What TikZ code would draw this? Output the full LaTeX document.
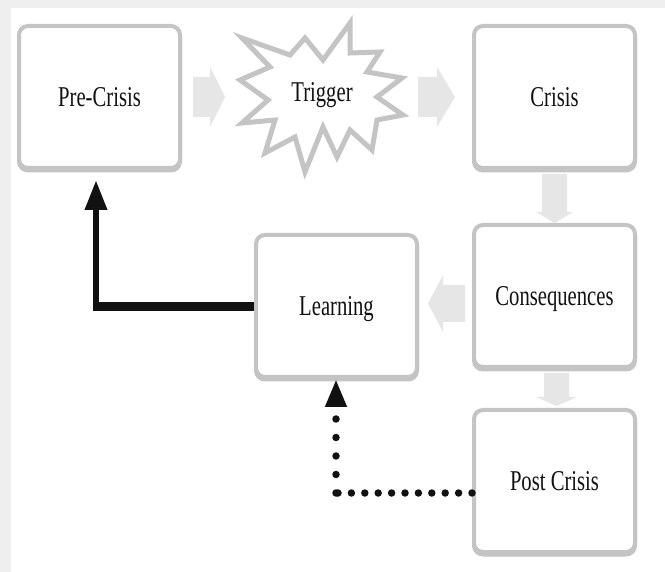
\documentclass[tikz,border=0pt]{standalone}
\usepackage{fontspec}
\usetikzlibrary{arrows.meta,shadows}
\newfontfamily\labelfont[FakeStretch=0.72]{Liberation Serif}
\definecolor{framegray}{HTML}{EFEFEF}
\definecolor{boxgray}{HTML}{C4C4C4}
\definecolor{arrowgray}{HTML}{E6E6E6}
\definecolor{inkblack}{HTML}{111111}

\begin{document}
\begin{tikzpicture}[x=1pt,y=-1pt,
  lbl/.style={font=\labelfont\fontsize{28.7}{30}\selectfont, text=inkblack,
    text height=19pt, text depth=0pt, inner sep=0pt},
  stage/.style={lbl, draw=boxgray, line width=4pt, fill=white,
    rounded corners=9pt, minimum width=161pt, minimum height=142pt,
    general shadow={shadow yshift=-2.5pt, draw=boxgray, line width=4pt, fill=boxgray}},
  burst/.style={draw=boxgray, line width=5pt, fill=white, line join=miter},
  blockarrow/.style={fill=arrowgray},
  feedback/.style={draw=inkblack, -{Triangle[length=30pt,width=21pt]}},
  dotline/.style={draw=inkblack, line width=7.5pt, line cap=round}
]
\useasboundingbox (0,0) rectangle (665,572);

% page background with its thin grey margin
\fill[framegray] (0,0) rectangle (665,572);
\fill[white] (11,8) rectangle (665,572);

% stages of the cycle
\node[stage] (pre)    at (99.5,97)  {Pre-Crisis};
\node[stage] (crisis) at (554.5,97) {Crisis};
\node[stage] (cons)   at (554.5,296) {Consequences};
\node[stage] (learn)  at (336.5,306) {Learning};
\node[stage] (post)   at (554.5,481) {Post Crisis};

% trigger burst
\draw[burst] (350,23) -- (350,53) -- (380,52) -- (367,72) -- (402,78)
  -- (377,97) -- (403,115) -- (377,120) -- (372,150) -- (350,130)
  -- (337,157) -- (323,127) -- (305,172) -- (295,137) -- (265,153)
  -- (275,120) -- (242,123) -- (268,100) -- (240,80) -- (270,67)
  -- (242,38) -- (290,55) -- (305,38) -- (323,60) -- cycle;
\node[lbl] (trig) at (322,92) {Trigger};

% grey block arrows along the main sequence
\fill[blockarrow] (193,77) -- (210,77) -- (210,67) -- (225,97)
  -- (210,127) -- (210,117) -- (193,117) -- cycle;
\fill[blockarrow] (418,77) -- (437,77) -- (437,67) -- (455,97)
  -- (437,127) -- (437,117) -- (418,117) -- cycle;
\fill[blockarrow] (542,174) -- (567,174) -- (567,212) -- (573,212)
  -- (554.5,223) -- (536,212) -- (542,212) -- cycle;
\fill[blockarrow] (465,285) -- (443,285) -- (443,275) -- (428,303.5)
  -- (443,332) -- (443,322) -- (465,322) -- cycle;
\fill[blockarrow] (544,373) -- (569,373) -- (569,397) -- (577,397)
  -- (556.5,406) -- (536,397) -- (544,397) -- cycle;

% feedback from learning back to the pre-crisis stage
\coordinate (elbow) at (96,307);
\draw[inkblack, line width=9pt] (learn.west |- elbow) -- ([xshift=-3.25pt]elbow);
\draw[feedback, line width=6.5pt, shorten >=10pt]
  ([yshift=-4.5pt]elbow) -- (pre.south -| elbow);

% dotted feedback from post crisis to learning
\coordinate (dotcorner) at (336,493);
\draw[dotline, dash pattern=on 0pt off 13.4pt] (post.west |- dotcorner) -- (dotcorner);
\draw[dotline, dash pattern=on 0pt off 18.5pt,
  -{Triangle[length=28pt,width=20pt]}] (dotcorner) -- (learn.south -| dotcorner);
\end{tikzpicture}
\end{document}
